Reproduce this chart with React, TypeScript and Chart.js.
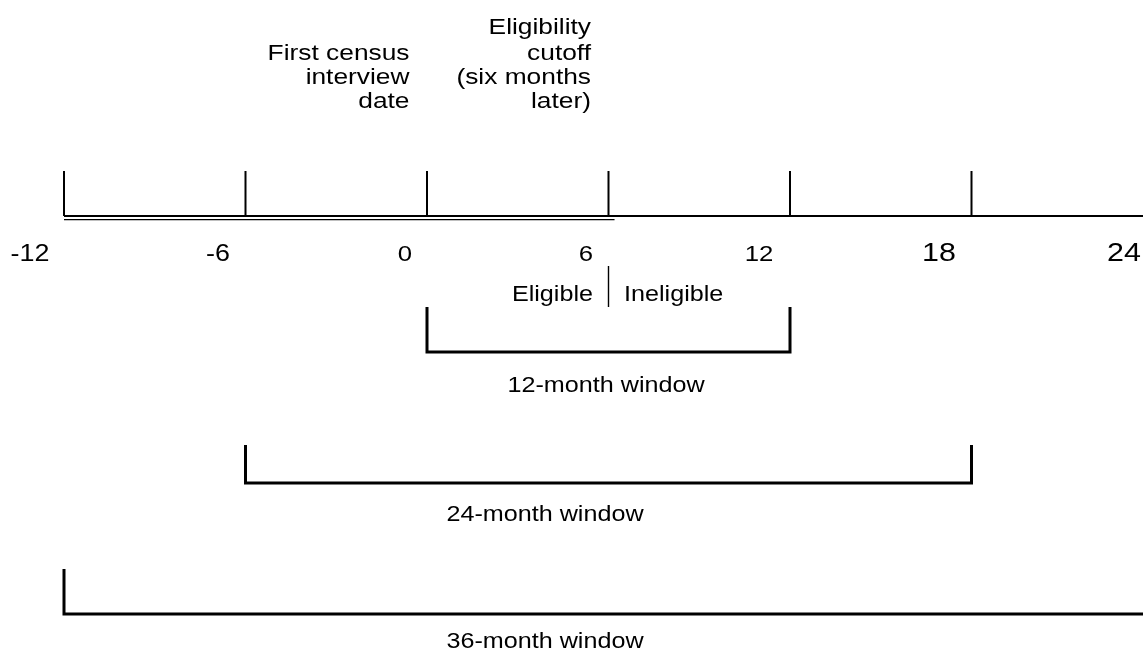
import React, { useEffect, useRef } from "react";
import { Chart, registerables } from "chart.js";

Chart.register(...registerables);

// ---- data (months relative to first census interview) ----
const tickMonths = [-12, -6, 0, 6, 12, 18];
const axisLabels = [-12, -6, 0, 6, 12, 18, 24];
const interviewMonth = 0;
const cutoffMonth = 6;
const eligibleLineEnd = 6.2;
const axisEnd = 24;
const windowNames = ["12-month window", "24-month window", "36-month window"];
const windowStarts = [0, -6, -12];
const windowEnds = [12, 18, 24];
const windowLabelAt = [5.92, 3.9, 3.9];
const interviewText = ["First census", "interview", "date"];
const cutoffText = ["Eligibility", "cutoff", "(six months", "later)"];
const sideLabels = ["Eligible", "Ineligible"];

// ---- layout / style ----
const W = 1143;
const H = 656;
const PX_PER_MONTH = 30.25;
const X0 = 64; // pixel of month -12
const XMIN = -12 - X0 / PX_PER_MONTH;
const XMAX = XMIN + W / PX_PER_MONTH;
const SX = 1.17;
const FONT = '"Liberation Sans", Arial, Helvetica, sans-serif';
const AXIS_Y = 216;
const AXIS_Y2 = 219.6;
const TICK_TOP = 171;
const LABEL_BASE = 261;
const DIV_TOP = 266;
const DIV_BOTTOM = 307;
const SIDE_BASE = 301;
const BRACKET_TOPS = [307, 445, 569];
const BRACKET_BOTTOMS = [352, 483, 614];
const BRACKET_TEXT_BASE = [392, 521, 648];
const TOP_LINE_H = 23.7;
const TOP_FIRST_GAP = 26;
const TOP_LAST_BASE = 107.5;
const LABEL_STYLE: Record<string, { dx: number; size: number }> = {
  "-12": { dx: -34, size: 23 },
  "-6": { dx: -27.5, size: 23 },
  "0": { dx: -22, size: 22 },
  "6": { dx: -22.5, size: 22 },
  "12": { dx: -31, size: 22 },
  "18": { dx: -32.5, size: 26 },
  "24": { dx: -29, size: 26 },
};

function drawText(
  ctx: CanvasRenderingContext2D,
  text: string,
  x: number,
  y: number,
  size: number,
  align: CanvasTextAlign
) {
  ctx.save();
  ctx.font = `${size}px ${FONT}`;
  ctx.fillStyle = "#000";
  ctx.textBaseline = "alphabetic";
  ctx.textAlign = align;
  ctx.translate(x, y);
  ctx.scale(SX, 1);
  ctx.fillText(text, 0, 0);
  ctx.restore();
}

const textPlugin = {
  id: "diagramText",
  afterDraw(chart: any) {
    const ctx = chart.ctx as CanvasRenderingContext2D;
    const xs = chart.scales.x;
    const px = (v: number) => xs.getPixelForValue(v);

    // axis labels
    axisLabels.forEach((v) => {
      const st = LABEL_STYLE[String(v)];
      drawText(ctx, String(v), px(v) + st.dx, LABEL_BASE, st.size, "center");
    });

    // top annotations (right-aligned, bottom-aligned blocks)
    const blocks: [number, string[]][] = [
      [interviewMonth, interviewText],
      [cutoffMonth, cutoffText],
    ];
    blocks.forEach(([m, lines]) => {
      const n = lines.length;
      lines.forEach((t, i) => {
        const k = n - 1 - i; // lines above the last one
        let y = TOP_LAST_BASE - Math.min(k, 2) * TOP_LINE_H;
        if (k > 2) y -= (k - 2) * TOP_FIRST_GAP;
        drawText(ctx, t, px(m) - 17.5, y, 22.5, "right");
      });
    });

    // eligible / ineligible
    drawText(ctx, sideLabels[0], px(cutoffMonth) - 15.5, SIDE_BASE, 21.5, "right");
    drawText(ctx, sideLabels[1], px(cutoffMonth) + 15.5, SIDE_BASE, 21.5, "left");

    // window labels
    windowNames.forEach((name, i) => {
      drawText(ctx, name, px(windowLabelAt[i]), BRACKET_TEXT_BASE[i], 21.5, "center");
    });
  },
};

export default function App() {
  const ref = useRef<HTMLCanvasElement | null>(null);

  useEffect(() => {
    if (!ref.current) return;

    const base = {
      type: "line" as const,
      borderColor: "#000",
      pointRadius: 0,
      pointHoverRadius: 0,
      fill: false,
      tension: 0,
      spanGaps: false,
      borderCapStyle: "butt" as const,
      borderJoinStyle: "miter" as const,
    };

    const tickData: any[] = [];
    tickMonths.forEach((m) => {
      tickData.push({ x: m, y: TICK_TOP }, { x: m, y: AXIS_Y }, { x: m, y: null });
    });

    const datasets: any[] = [
      {
        ...base,
        label: "axis",
        borderWidth: 2,
        data: [
          { x: tickMonths[0], y: AXIS_Y },
          { x: axisEnd, y: AXIS_Y },
        ],
      },
      {
        ...base,
        label: "eligible period",
        borderWidth: 1.4,
        data: [
          { x: tickMonths[0], y: AXIS_Y2 },
          { x: eligibleLineEnd, y: AXIS_Y2 },
        ],
      },
      { ...base, label: "ticks", borderWidth: 2, data: tickData },
      {
        ...base,
        label: "divider",
        borderWidth: 1.4,
        data: [
          { x: cutoffMonth, y: DIV_TOP },
          { x: cutoffMonth, y: DIV_BOTTOM },
        ],
      },
      ...windowNames.map((name, i) => ({
        ...base,
        label: name,
        borderWidth: 3,
        data: [
          { x: windowStarts[i], y: BRACKET_TOPS[i] },
          { x: windowStarts[i], y: BRACKET_BOTTOMS[i] },
          { x: windowEnds[i], y: BRACKET_BOTTOMS[i] },
          { x: windowEnds[i], y: BRACKET_TOPS[i] },
        ],
      })),
    ];

    const chart = new Chart(ref.current, {
      type: "line",
      data: { datasets },
      options: {
        animation: false,
        responsive: false,
        maintainAspectRatio: false,
        layout: { padding: 0 },
        events: [],
        plugins: {
          legend: { display: false },
          tooltip: { enabled: false },
          title: { display: false },
        },
        scales: {
          x: { type: "linear", min: XMIN, max: XMAX, display: false },
          y: { type: "linear", min: 0, max: H, reverse: true, display: false },
        },
      },
      plugins: [textPlugin],
    });

    return () => chart.destroy();
  }, []);

  return (
    <div style={{ position: "absolute", left: 0, top: 0, width: W, height: H, background: "#fff" }}>
      <canvas ref={ref} width={W} height={H} style={{ display: "block" }} />
    </div>
  );
}
